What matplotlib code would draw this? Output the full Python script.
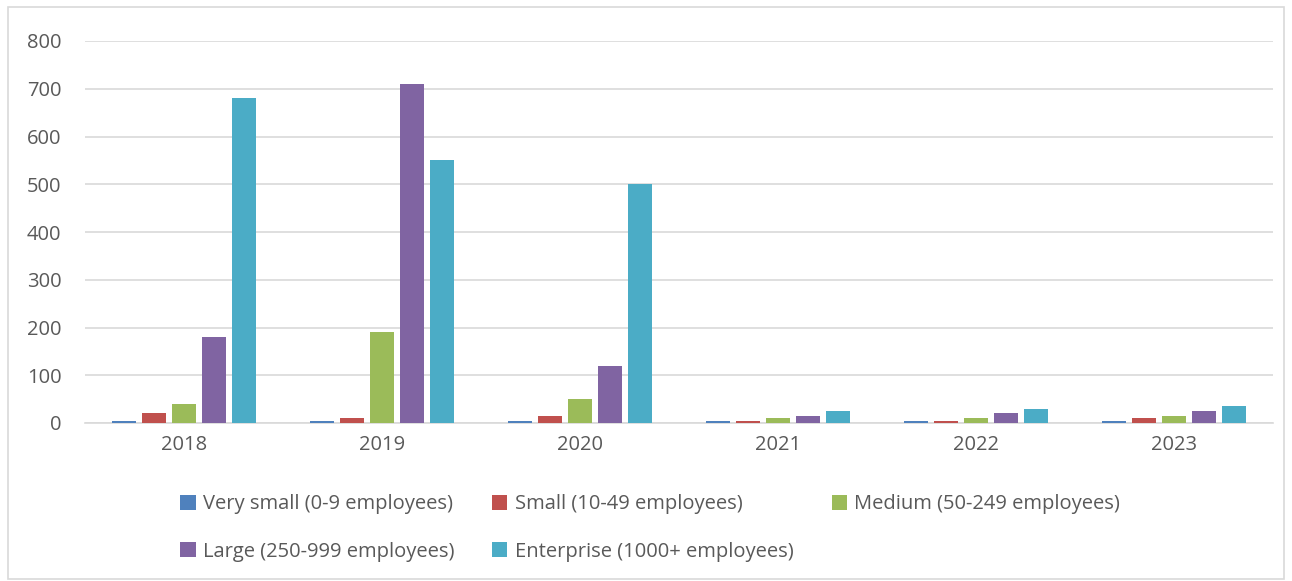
import matplotlib.pyplot as plt
import numpy as np

plt.rcParams['font.family'] = ['Open Sans', 'DejaVu Sans']

# data
years = ['2018', '2019', '2020', '2021', '2022', '2023']
series_names = ['Very small (0-9 employees)', 'Small (10-49 employees)',
                'Medium (50-249 employees)', 'Large (250-999 employees)',
                'Enterprise (1000+ employees)']
very_small = [5, 5, 5, 5, 5, 5]
small = [20, 10, 15, 5, 5, 10]
medium = [40, 190, 50, 10, 10, 15]
large = [180, 710, 120, 15, 20, 25]
enterprise = [680, 550, 500, 25, 30, 35]
colors = ['#4F81BD', '#C0504D', '#9BBB59', '#8064A2', '#4BACC6']

values = [very_small, small, medium, large, enterprise]

fig = plt.figure(figsize=(12.92, 5.81), dpi=100)
ax = fig.add_axes([85 / 1292, 1 - 423 / 581, 1188 / 1292, 382 / 581])

x = np.arange(len(years))
step = 0.152
width = 0.122
bars = []
for i, (vals, name, c) in enumerate(zip(values, series_names, colors)):
    bars.append(ax.bar(x + (i - 2) * step, vals, width=width, color=c, label=name, zorder=3))

ax.set_xlim(-0.5, len(years) - 0.5)
ax.set_ylim(0, 800)
ax.set_yticks(range(0, 801, 100))
ax.set_xticks(x)
ax.set_xticklabels(years)
ax.grid(axis='y', color='#D9D9D9', linewidth=1.2, zorder=0)
for s in ['top', 'right', 'left']:
    ax.spines[s].set_visible(False)
ax.spines['bottom'].set_color('#D9D9D9')
ax.spines['bottom'].set_linewidth(1.2)
ax.tick_params(axis='both', length=0, labelsize=14.5, colors='#595959')
ax.tick_params(axis='x', pad=9)
ax.tick_params(axis='y', pad=17)

# legend filled row by row
order = [0, 3, 1, 4, 2]
fig.legend([bars[i] for i in order], [series_names[i] for i in order],
           loc='center', bbox_to_anchor=(650 / 1292, 1 - 528 / 581), ncol=3,
           frameon=False, fontsize=14.5, labelcolor='#595959',
           handlelength=0.75, handleheight=0.75, handletextpad=0.35,
           columnspacing=1.9, labelspacing=1.35)

# outer border
fig.patches.append(plt.Rectangle((0.006, 0.003), 0.988, 0.985, transform=fig.transFigure,
                                 fill=False, edgecolor='#D9D9D9', linewidth=1.2))

fig.savefig('out.png', dpi=100)
